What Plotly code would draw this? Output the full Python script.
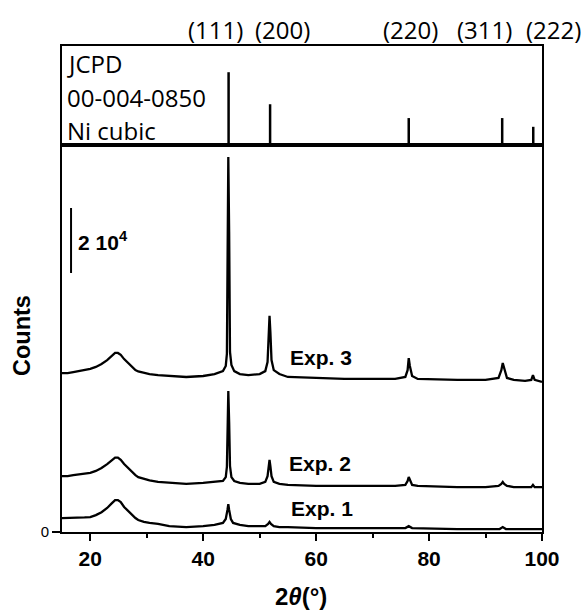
import plotly.graph_objects as go

# ---------------- data (2theta in degrees, counts in 10^3) ----------------
two_theta_exp3 = [15, 16, 17, 18, 19, 20, 21, 22, 23, 23.8, 24.4, 24.9, 25.4, 26, 26.5, 27, 27.5, 28,
                  28.5, 29.5, 30.5, 32, 34, 37, 40, 42,
                  43.5, 44.0, 44.2, 44.35, 44.45, 44.6, 44.75, 45.0, 45.5, 46.5, 48, 50,
                  51.0, 51.4, 51.6, 51.75, 51.9, 52.1, 52.5, 53.5, 55, 60, 65, 70, 74,
                  75.8, 76.2, 76.4, 76.6, 77.0, 78, 85, 90, 92.3, 92.8, 93.05, 93.3, 93.8,
                  95, 97, 98.1, 98.4, 98.7, 100]
counts_exp3 = [48.9, 48.9, 49.2, 49.5, 49.8, 50.2, 50.8, 51.7, 52.9, 54.2, 55.1, 55.1, 54.5, 53.2, 52.3, 51.4, 50.5, 49.8,
               49.4, 48.9, 48.6, 48.3, 48.0, 47.7, 48.0, 48.6,
               49.5, 51.1, 54.8, 92.3, 115.4, 92.3, 55.4, 51.4, 49.5, 48.6, 48.3, 48.6,
               49.5, 52.3, 61.5, 66.5, 61.5, 52.9, 49.8, 48.6, 47.7, 47.4, 47.1, 47.1, 47.1,
               47.7, 49.8, 53.5, 51.1, 48.0, 47.1, 46.8, 46.8, 47.4, 49.8, 52.0, 50.2, 47.4,
               46.8, 46.5, 46.8, 48.3, 46.8, 46.2]

two_theta_exp2 = two_theta_exp3
counts_exp2 = [17.2, 17.2, 17.5, 17.8, 18.0, 18.2, 18.8, 19.7, 20.9, 22.2, 22.9, 22.9, 22.2, 20.9, 20.0, 19.1, 18.2, 17.5,
               16.9, 16.3, 15.9, 15.4, 15.1, 14.8, 15.1, 15.4,
               15.7, 16.9, 20.0, 33.8, 43.4, 33.8, 20.3, 16.9, 15.7, 15.1, 14.8, 14.8,
               15.4, 17.2, 20.3, 22.2, 20.3, 17.2, 15.4, 14.8, 14.5, 14.2, 14.2, 14.2, 14.2,
               14.5, 15.7, 16.9, 16.0, 14.5, 14.2, 13.8, 13.8, 14.2, 14.8, 15.4, 14.8, 14.2,
               13.8, 13.8, 13.8, 14.5, 13.8, 13.8]

two_theta_exp1 = [15, 16, 17, 18, 19, 20, 21, 22, 23, 23.8, 24.4, 24.9, 25.4, 26, 26.5, 27, 27.5, 28,
                  28.5, 29.5, 30.5, 32, 34, 37, 40, 42,
                  43.5, 44.0, 44.3, 44.45, 44.6, 44.9, 45.3, 46.5, 48, 50, 51.0, 51.5, 51.75,
                  52.0, 52.5, 53.5, 55, 60, 65, 70, 75.8, 76.4, 77.0, 85, 92.5, 93.05, 93.6, 100]
counts_exp1 = [4.3, 4.3, 4.3, 4.4, 4.5, 4.6, 5.2, 6.1, 7.4, 8.8, 9.8, 9.8, 9.2, 7.7, 6.8, 5.8, 4.9, 4.3,
               3.7, 3.1, 2.8, 2.5, 1.8, 1.5, 1.8, 2.2,
               2.8, 4.0, 6.8, 8.6, 6.8, 4.0, 2.8, 2.2, 1.8, 1.8, 1.8, 2.5, 3.1,
               2.5, 1.8, 1.5, 1.5, 1.2, 1.2, 1.2, 1.2, 1.8, 1.2, 0.9, 0.9, 1.5, 0.9, 0.9]

series_names = ["Exp. 1", "Exp. 2", "Exp. 3"]

ref_positions = [44.5, 51.85, 76.4, 92.95, 98.45]
ref_intensity = [100, 56, 37, 37, 25]
ref_hkl = ["(111)", "(200)", "(220)", "(311)", "(222)"]
ref_text = ["JCPD", "00-004-0850", "Ni cubic"]

scale_bar_len = 20  # 2 x 10^4 counts (axis in 10^3 counts)
scale_bar_base = 79.7

# ---------------- figure ----------------
ARIAL = "Liberation Sans, Arial, sans-serif"
CAL = "Open Sans, sans-serif"
W, H = 585, 610
ml, mr, mt, mb = 62, 43, 46, 78
pw, ph = W - ml - mr, H - mt - mb
split = (532 - 145) / ph

fig = go.Figure()
for xs, ys, nm in [(two_theta_exp1, counts_exp1, series_names[0]),
                   (two_theta_exp2, counts_exp2, series_names[1]),
                   (two_theta_exp3, counts_exp3, series_names[2])]:
    fig.add_trace(go.Scatter(x=xs, y=ys, mode="lines", name=nm,
                             line=dict(color="black", width=2.3), showlegend=False,
                             xaxis="x", yaxis="y"))

sx, sy = [], []
for p, v in zip(ref_positions, ref_intensity):
    sx += [p, p, None]
    sy += [0, v, None]
fig.add_trace(go.Scatter(x=sx, y=sy, mode="lines", line=dict(color="black", width=2.5),
                         showlegend=False, xaxis="x2", yaxis="y2"))

axis_common = dict(showgrid=False, zeroline=False, linecolor="black", linewidth=2)
fig.update_layout(
    width=W, height=H,
    margin=dict(l=ml, r=mr, t=mt, b=mb),
    plot_bgcolor="white", paper_bgcolor="white",
    xaxis=dict(domain=[0, 1], range=[15, 100], anchor="y", showline=True, mirror=True,
               tickvals=[20, 40, 60, 80, 100], ticks="outside", ticklen=7, tickwidth=2,
               tickcolor="black",
               tickfont=dict(family=ARIAL, size=21, color="black", weight="bold"),
               minor=dict(tickvals=[30, 50, 70, 90], ticks="outside", ticklen=4,
                          tickwidth=2, tickcolor="black"),
               **axis_common),
    yaxis=dict(domain=[0, split], range=[0, 119.08], anchor="x", showline=True, mirror=True,
               tickvals=[0], ticktext=["0"], ticks="outside", ticklen=8, tickwidth=2,
               tickcolor="black", tickfont=dict(family=ARIAL, size=15, color="black"),
               **axis_common),
    xaxis2=dict(domain=[0, 1], range=[15, 100], anchor="y2", showline=True, mirror=True,
                showticklabels=False, ticks="", **axis_common),
    yaxis2=dict(domain=[split, 1], range=[0, 136], anchor="x2", showline=True, mirror=True,
                showticklabels=False, ticks="", **axis_common),
)

def px_x(px):
    return (px - ml) / pw

def px_y(py):
    return (H - mb - py) / ph

ann = []
# hkl labels above top panel
for lab, cx in zip(ref_hkl, [215, 282, 410, 484.5, 553]):
    ann.append(dict(text=lab, x=px_x(cx), y=px_y(30), xref="paper", yref="paper",
                    xanchor="center", yanchor="middle", showarrow=False,
                    font=dict(family=CAL, size=24, color="black")))
# reference card text
for t, cy in zip(ref_text, [63, 97, 130]):
    ann.append(dict(text=t, x=px_x(65), y=px_y(cy), xref="paper", yref="paper",
                    xanchor="left", yanchor="middle", showarrow=False,
                    font=dict(family=CAL, size=24, color="black")))
# series labels
for t, cx, cy in zip(series_names, [289, 287, 288], [508, 463, 357]):
    ann.append(dict(text="<b>%s</b>" % t, x=px_x(cx), y=px_y(cy), xref="paper", yref="paper",
                    xanchor="left", yanchor="middle", showarrow=False,
                    font=dict(family=ARIAL, size=21, color="black")))
# scale bar label
ann.append(dict(text="<b>2 10<sup>4</sup></b>", x=px_x(76), y=px_y(241),
                xref="paper", yref="paper", xanchor="left", yanchor="middle", showarrow=False,
                font=dict(family=ARIAL, size=21, color="black")))
# axis titles
ann.append(dict(text="<b>Counts</b>", x=px_x(22), y=px_y(336), xref="paper", yref="paper",
                xanchor="center", yanchor="middle", textangle=-90, showarrow=False,
                font=dict(family=ARIAL, size=23.5, color="black")))
ann.append(dict(text="<b>2<i>θ</i>(°)</b>", x=px_x(301), y=px_y(596), xref="paper", yref="paper",
                xanchor="center", yanchor="middle", showarrow=False,
                font=dict(family=ARIAL, size=24, color="black")))
fig.update_layout(annotations=ann)

fig.add_shape(type="line", xref="x", yref="y", x0=16.6, x1=16.6,
              y0=scale_bar_base, y1=scale_bar_base + scale_bar_len,
              line=dict(color="black", width=2))

fig.write_html("out.html", config={"displayModeBar": False},
               post_script="document.body.style.margin='0';")
